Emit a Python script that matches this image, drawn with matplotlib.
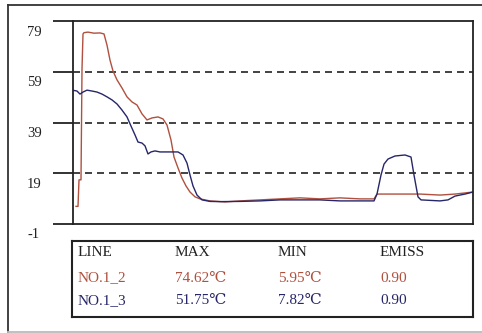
import matplotlib
matplotlib.use("Agg")
import matplotlib.pyplot as plt
from matplotlib.lines import Line2D

# line NO.1_2 (red)
red_x = [3, 5, 6, 8, 9, 10, 11, 15, 21, 27, 31, 34, 37, 40, 44, 49, 54, 59, 64, 69, 74, 79,
         85, 90, 94, 98, 101, 105, 109, 113, 117, 122, 127, 137, 152, 167, 187, 207, 227,
         247, 267, 287, 301, 304, 327, 347, 367, 382, 400]
red_y = [5.95, 5.95, 16.4, 16.4, 60.0, 73.9, 74.4, 74.62, 74.2, 74.3, 73.9, 69.5, 63.6, 59.3,
         55.8, 52.6, 49.1, 47.1, 45.9, 42.4, 40.0, 40.8, 41.2, 40.4, 38.0, 32.1, 25.4, 21.1,
         17.1, 14.0, 11.6, 9.7, 8.9, 8.1, 7.7, 8.1, 8.5, 8.9, 9.3, 8.9, 9.3, 8.9, 8.9, 10.8,
         10.8, 10.8, 10.4, 10.8, 11.6]

# line NO.1_3 (blue)
blue_x = [0, 4, 7, 10, 14, 19, 24, 29, 34, 39, 44, 49, 54, 58, 62, 65, 69, 72, 75, 78, 82, 87,
          97, 105, 110, 114, 117, 120, 124, 129, 137, 147, 167, 187, 207, 227, 247, 267, 287,
          301, 304, 308, 311, 315, 322, 332, 338, 341, 345, 348, 367, 375, 382, 392, 400]
blue_y = [51.7, 51.4, 50.2, 51.0, 51.75, 51.4, 51.0, 50.2, 49.1, 47.9, 46.3, 43.9, 41.2, 37.6,
          34.1, 31.3, 30.9, 29.8, 26.6, 27.4, 27.8, 27.4, 27.4, 27.4, 26.2, 23.0, 18.3, 14.0,
          10.4, 8.5, 7.9, 7.82, 7.9, 8.1, 8.5, 8.5, 8.5, 8.1, 8.1, 8.1, 10.8, 18.3, 22.6, 24.6,
          25.8, 26.2, 25.4, 18.3, 9.7, 8.5, 8.1, 8.5, 10.0, 10.8, 11.6]

y_ticks = [-1, 19, 39, 59, 79]

# table under the chart
tab_cols = ["LINE", "MAX", "MIN", "EMISS"]
line_names = ["NO.1_2", "NO.1_3"]
max_vals = ["74.62℃", "51.75℃"]
min_vals = ["5.95℃", "7.82℃"]
emiss_vals = ["0.90", "0.90"]

RED = "#b0503e"
BLUE = "#26266a"
FONT = ["Liberation Serif", "DejaVu Serif"]

W, H = 482, 333
fig = plt.figure(figsize=(W / 100, H / 100), dpi=100)
fig.patch.set_facecolor("white")

def fx(px):
    return px / W

def fy(py):
    return 1 - py / H

# outer frame
fig.add_artist(Line2D([fx(8), fx(8)], [fy(5), fy(332)], color="#333333", lw=1.3))
fig.add_artist(Line2D([fx(8), fx(482)], [fy(5), fy(5)], color="#333333", lw=1.3))
fig.add_artist(Line2D([fx(8), fx(482)], [fy(332), fy(332)], color="#bbbbbb", lw=1.3))

# chart
ax = fig.add_axes([fx(73), fy(224), fx(473) - fx(73), fy(21) - fy(224)])
ax.set_xlim(0, 400)
ax.set_ylim(-1, 79)
for s in ax.spines.values():
    s.set_linewidth(1.3)
    s.set_color("#222222")
ax.set_xticks([])
ax.set_yticks(y_ticks)
ax.tick_params(axis="y", direction="out", length=14.4, width=1.3, color="#222222",
               labelleft=False)
for v in y_ticks[1:-1]:
    ax.axhline(v, color="#222222", lw=1.2, ls=(0, (4.2, 3.0)))
for v in y_ticks:
    ax.annotate(str(v), xy=(0, v), xycoords=ax.get_yaxis_transform(),
                xytext=(-46, -11), textcoords="offset pixels",
                ha="left", va="center", fontsize=10.5, family=FONT, color="#222222")

ax.plot(red_x, red_y, color=RED, lw=1.0)
ax.plot(blue_x, blue_y, color=BLUE, lw=1.0)

# table box
tab = fig.add_axes([fx(72), fy(317), fx(473) - fx(72), fy(241) - fy(317)])
tab.set_xticks([])
tab.set_yticks([])
for s in tab.spines.values():
    s.set_linewidth(1.5)
    s.set_color("#222222")

col_px = [78, 175, 278, 380]
row_py = [253, 278, 301]
for c, name in enumerate(tab_cols):
    fig.text(fx(col_px[c]), fy(row_py[0]), name, ha="left", va="center",
             fontsize=11, family=FONT, color="#222222")
colors = [RED, BLUE]
for r in range(len(line_names)):
    cells = [line_names[r], max_vals[r], min_vals[r], emiss_vals[r]]
    for c, txt in enumerate(cells):
        fig.text(fx(col_px[c]), fy(row_py[r + 1]), txt, ha="left", va="center",
                 fontsize=11, family=FONT, color=colors[r])

fig.savefig("out.png", dpi=100)
